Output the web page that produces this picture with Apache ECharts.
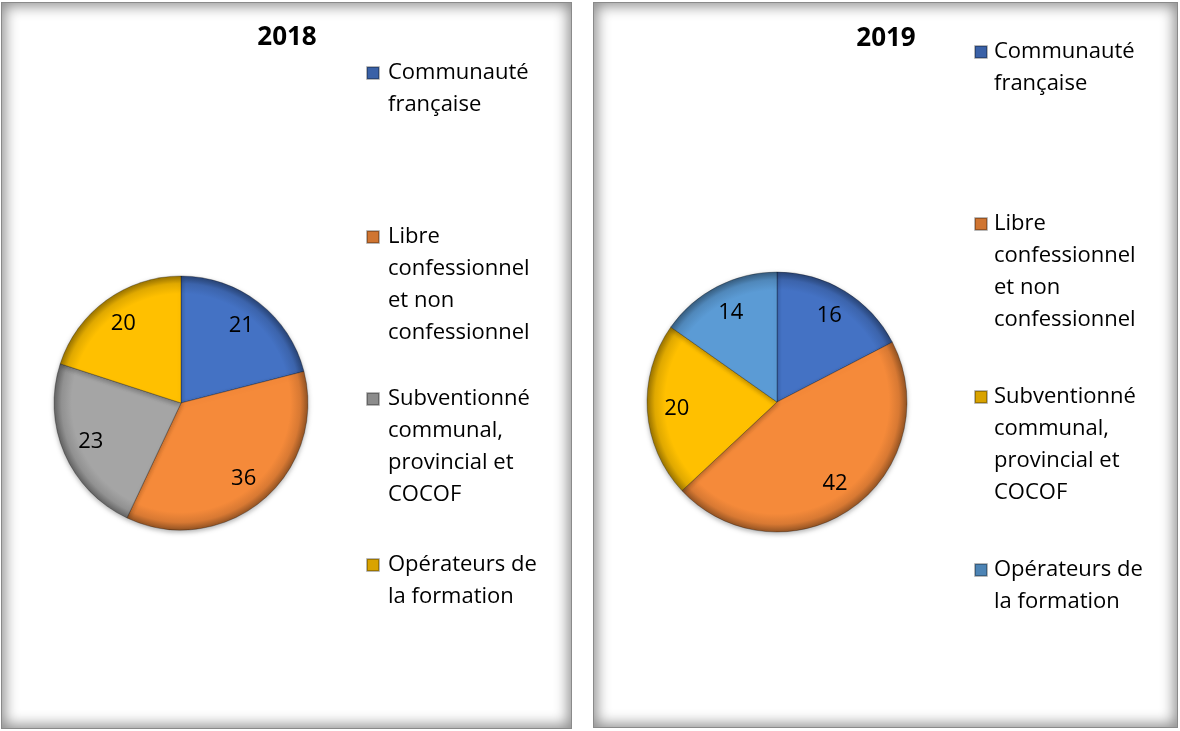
<!DOCTYPE html>
<html>
<head>
<meta charset="utf-8">
<script src="https://cdn.jsdelivr.net/npm/echarts@6/dist/echarts.min.js"></script>
<style>
html, body { margin: 0; padding: 0; background: #fff; }
body { width: 1180px; height: 731px; position: relative; overflow: hidden; }
.panel {
  position: absolute;
  box-sizing: border-box;
  border: 1px solid #8a8a8a;
  box-shadow: inset 0 0 14px 3px rgba(0, 0, 0, 0.45);
  background: #fff;
}
#p2018 { left: 1px; top: 2px; width: 571px; height: 727px; }
#p2019 { left: 593px; top: 2px; width: 585px; height: 726px; }
.chart { position: absolute; left: 0; top: 0; width: 1180px; height: 731px; }
</style>
</head>
<body>
<div class="panel" id="p2018"></div>
<div class="panel" id="p2019"></div>
<div class="chart" id="c2018"></div>
<div class="chart" id="c2019"></div>
<script>
// catégories (libellés de légende, coupés comme dans l'original)
const categoryLines = [
  ["Communauté", "française"],
  ["Libre", "confessionnel", "et non", "confessionnel"],
  ["Subventionné", "communal,", "provincial et", "COCOF"],
  ["Opérateurs de", "la formation"],
];
const categories = categoryLines.map((l) => l.join(" "));

const values2018 = [21, 36, 23, 20];
const values2019 = [16, 42, 20, 14];

const colors2018 = ["#4472C4", "#F58A3A", "#A5A5A5", "#FFC000"];
const colors2019 = ["#4472C4", "#F58A3A", "#FFC000", "#5B9BD5"];

const FONT = "Open Sans";
const LH = 32;

function darken(hex, k) {
  const n = parseInt(hex.slice(1), 16);
  const r = Math.round(((n >> 16) & 255) * k);
  const g = Math.round(((n >> 8) & 255) * k);
  const b = Math.round((n & 255) * k);
  return "rgb(" + r + "," + g + "," + b + ")";
}

// effet biseau approximatif : bord extérieur assombri
function rim(c, cx, cy, r) {
  return new echarts.graphic.RadialGradient(cx, cy, r, [
    { offset: 0, color: c },
    { offset: 0.86, color: c },
    { offset: 0.94, color: darken(c, 0.88) },
    { offset: 1, color: darken(c, 0.6) },
  ], true);
}

function buildChart(el, cfg) {
  const chart = echarts.init(document.getElementById(el));
  const [cx, cy] = cfg.center;
  const option = {
    backgroundColor: "transparent",
    animation: false,
    title: {
      text: cfg.title,
      left: cfg.titleX,
      top: cfg.titleY,
      textAlign: "center",
      padding: 0,
      textStyle: { fontFamily: FONT, fontSize: 26, fontWeight: "bold", color: "#000" },
    },
    legend: categories.map((name, i) => {
      const lines = categoryLines[i];
      return {
        data: [{ name: name, itemStyle: { color: darken(cfg.colors[i], 0.85) } }],
        orient: "vertical",
        left: cfg.legendX,
        top: cfg.legendY[i] - (lines.length - 0.5) * LH,
        padding: 0,
        icon: "rect",
        itemWidth: 12,
        itemHeight: 12,
        selectedMode: false,
        formatter: () => "\n".repeat(lines.length - 1) + lines.join("\n"),
        textStyle: {
          fontFamily: FONT,
          fontSize: 22,
          lineHeight: LH,
          color: "#000",
          padding: [0, 0, 0, cfg.textGap],
        },
      };
    }),
    series: [
      {
        type: "pie",
        center: cfg.center,
        radius: cfg.radius,
        startAngle: 90,
        clockwise: true,
        label: { show: false },
        labelLine: { show: false },
        emphasis: { disabled: true },
        itemStyle: {
          borderColor: "rgba(0,0,0,0.28)",
          borderWidth: 1,
          shadowBlur: 5,
          shadowOffsetY: 2,
          shadowColor: "rgba(0,0,0,0.3)",
        },
        data: categories.map((name, i) => ({
          name: name,
          value: cfg.values[i],
          itemStyle: { color: rim(cfg.colors[i], cx, cy, cfg.radius) },
        })),
      },
      {
        // série transparente : place les étiquettes à ~3/4 du rayon
        type: "pie",
        center: cfg.center,
        radius: [cfg.radius / 2, cfg.radius],
        startAngle: 90,
        clockwise: true,
        silent: true,
        emphasis: { disabled: true },
        itemStyle: { color: "transparent" },
        label: {
          show: true,
          position: "inside",
          formatter: "{c}",
          fontFamily: FONT,
          fontSize: 22,
          color: "#000",
        },
        labelLine: { show: false },
        data: categories.map((name, i) => ({ name: name, value: cfg.values[i] })),
      },
    ],
  };
  chart.setOption(option);
  return chart;
}

buildChart("c2018", {
  title: "2018",
  titleX: 287,
  titleY: 25,
  values: values2018,
  colors: colors2018,
  center: [181, 403],
  radius: 127,
  legendX: 366,
  legendY: [73, 237, 399, 565],
  textGap: 4,
});

buildChart("c2019", {
  title: "2019",
  titleX: 886,
  titleY: 26,
  values: values2019,
  colors: colors2019,
  center: [777, 402],
  radius: 130,
  legendX: 974,
  legendY: [52, 224, 397, 570],
  textGap: 2,
});
</script>
</body>
</html>
